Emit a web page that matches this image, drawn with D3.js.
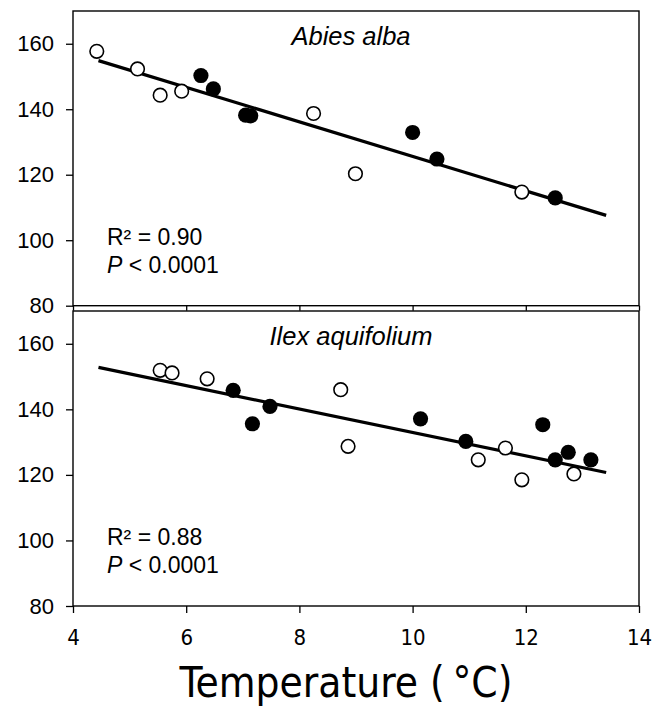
<!DOCTYPE html>
<html>
<head>
<meta charset="utf-8">
<script src="https://cdn.jsdelivr.net/npm/d3@7"></script>
<style>
  html, body { margin: 0; padding: 0; background: #fff; }
  svg { display: block; }
  .ytick text { font-family: "Liberation Sans", Arial, sans-serif; font-size: 22px; fill: #000; }
  .xtick text { font-family: "DejaVu Sans Condensed", "DejaVu Sans", sans-serif; font-stretch: condensed; font-size: 22px; fill: #000; }
</style>
</head>
<body>
<svg id="chart" width="658" height="708"></svg>
<script>
// Temperature (°C) vs. response, two species panels
const xTicks = [4, 6, 8, 10, 12, 14];
const yTicks = [80, 100, 120, 140, 160];

// Abies alba
const abiesOpenT   = [4.42, 5.14, 5.54, 5.92, 8.25, 8.99, 11.93];
const abiesOpenV   = [157.7, 152.3, 144.3, 145.5, 138.7, 120.3, 114.7];
const abiesFilledT = [6.26, 6.48, 7.05, 7.14, 10.0, 10.43, 12.52];
const abiesFilledV = [150.3, 146.2, 138.2, 138.0, 132.9, 124.8, 112.9];
const abiesFit     = [178.3, -5.27];   // intercept, slope
const abiesStats   = ["0.90", "0.0001"];

// Ilex aquifolium
const ilexOpenT   = [5.54, 5.75, 6.37, 8.73, 8.86, 11.16, 11.64, 11.93, 12.85];
const ilexOpenV   = [151.9, 151.1, 149.3, 146.0, 128.7, 124.6, 128.2, 118.5, 120.3];
const ilexFilledT = [6.83, 7.17, 7.48, 10.14, 10.94, 12.30, 12.52, 12.75, 13.15];
const ilexFilledV = [145.8, 135.6, 140.9, 137.1, 130.2, 135.3, 124.6, 126.9, 124.6];
const ilexFit     = [168.7, -3.575];
const ilexStats   = ["0.88", "0.0001"];

const fitRange = [4.45, 13.42];

const svg = d3.select("#chart");
const left = 73, right = 639;
const x = d3.scaleLinear().domain([4, 14]).range([left, right]);

const panels = [
  { name: "Abies alba", top: 11, bottom: 305.7,
    openT: abiesOpenT, openV: abiesOpenV, fillT: abiesFilledT, fillV: abiesFilledV,
    fit: abiesFit, stats: abiesStats, last: false },
  { name: "Ilex aquifolium", top: 311, bottom: 606,
    openT: ilexOpenT, openV: ilexOpenV, fillT: ilexFilledT, fillV: ilexFilledV,
    fit: ilexFit, stats: ilexStats, last: true }
];

panels.forEach(p => {
  const y = d3.scaleLinear().domain([80, 170]).range([p.bottom, p.top]);
  const g = svg.append("g");

  // frame
  g.append("rect")
    .attr("x", left).attr("y", p.top)
    .attr("width", right - left).attr("height", p.bottom - p.top)
    .attr("fill", "none").attr("stroke", "#000").attr("stroke-width", 1.4);

  // y axis
  const ya = g.append("g").attr("class", "ytick")
    .attr("transform", `translate(${left},0)`)
    .call(d3.axisLeft(y).tickValues(yTicks).tickSize(7).tickPadding(12).tickFormat(d3.format("d")));
  ya.select(".domain").remove();
  ya.selectAll("line").attr("stroke", "#000").attr("stroke-width", 1.3);

  // x axis
  const xa = g.append("g").attr("class", "xtick")
    .attr("transform", `translate(0,${p.bottom})`)
    .call(d3.axisBottom(x).tickValues(xTicks)
      .tickSize(p.last ? 7 : 5).tickPadding(16)
      .tickFormat(p.last ? d3.format("d") : () => ""));
  xa.select(".domain").remove();
  xa.selectAll("line").attr("stroke", "#000").attr("stroke-width", 1.3);

  // regression line
  const line = d3.line().x(d => x(d)).y(d => y(p.fit[0] + p.fit[1] * d));
  g.append("path").datum(fitRange)
    .attr("d", line).attr("fill", "none")
    .attr("stroke", "#000").attr("stroke-width", 3.2);

  // open circles
  g.selectAll("circle.open").data(p.openT.map((t, i) => [t, p.openV[i]]))
    .join("circle").attr("class", "open")
    .attr("cx", d => x(d[0])).attr("cy", d => y(d[1])).attr("r", 6.8)
    .attr("fill", "#fff").attr("stroke", "#000").attr("stroke-width", 1.6);

  // filled circles
  g.selectAll("circle.filled").data(p.fillT.map((t, i) => [t, p.fillV[i]]))
    .join("circle").attr("class", "filled")
    .attr("cx", d => x(d[0])).attr("cy", d => y(d[1])).attr("r", 7.6)
    .attr("fill", "#000");

  // species name
  g.append("text")
    .attr("x", 351).attr("y", p.top + 34)
    .attr("text-anchor", "middle")
    .style("font-family", "'Liberation Sans', Arial, sans-serif")
    .style("font-style", "italic").style("font-size", "25.5px")
    .text(p.name);

  // statistics
  const st = g.append("text")
    .style("font-family", "'Liberation Sans', Arial, sans-serif")
    .style("font-size", "23px");
  st.append("tspan").attr("x", 107).attr("y", p.top + 234).text(`R² = ${p.stats[0]}`);
  const l2 = st.append("tspan").attr("x", 107).attr("y", p.top + 262);
  l2.append("tspan").style("font-style", "italic").text("P");
  l2.append("tspan").text(` < ${p.stats[1]}`);
});

// x axis title
svg.append("text")
  .attr("x", 346).attr("y", 697)
  .attr("text-anchor", "middle")
  .style("font-family", "'DejaVu Sans Condensed', 'DejaVu Sans', sans-serif")
  .style("font-stretch", "condensed")
  .style("font-size", "42px")
  .text("Temperature (\u2009°C)");
</script>
</body>
</html>
